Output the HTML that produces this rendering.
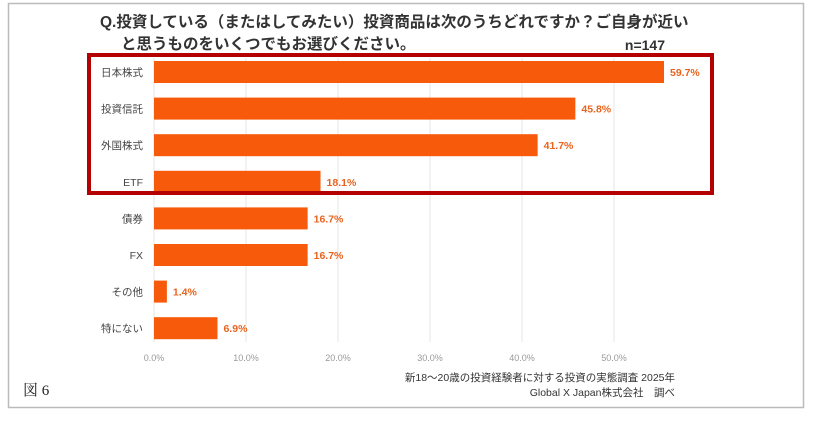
<!DOCTYPE html>
<html><head><meta charset="utf-8"><style>
body{margin:0;background:#fff;width:820px;height:422px;overflow:hidden;font-family:"Liberation Sans","Noto Sans CJK JP",sans-serif}
</style></head><body>
<svg id="c" width="820" height="422" xmlns="http://www.w3.org/2000/svg">
<rect x="8.5" y="3.5" width="795" height="404" fill="#fff" stroke="#bbb" stroke-width="1.5"/>
<text x="100" y="27" font-size="15.5" font-weight="bold" fill="#333">Q.投資している（またはしてみたい）投資商品は次のうちどれですか？ご自身が近い</text>
<text x="121" y="49" font-size="15.5" font-weight="bold" fill="#333">と思うものをいくつでもお選びください。</text>
<text x="665" y="50" font-size="14" font-weight="bold" fill="#333" text-anchor="end">n=147</text>
<g id="grid"></g><g id="bars"></g>
<rect x="89" y="55" width="623" height="138" fill="none" stroke="#b30000" stroke-width="4"/>
<text x="675" y="381" font-size="10.5" fill="#333" text-anchor="end">新18～20歳の投資経験者に対する投資の実態調査 2025年</text>
<text x="675" y="396" font-size="10.5" fill="#333" text-anchor="end">Global X Japan株式会社　調べ</text>
<text x="23" y="395" font-size="15" fill="#222" font-family="Liberation Serif,Noto Serif CJK SC,serif">図 6</text>
</svg>
<script>
const categories=["日本株式","投資信託","外国株式","ETF","債券","FX","その他","特にない"];
const values=[59.7,45.8,41.7,18.1,16.7,16.7,1.4,6.9];
const ticks=[0,10,20,30,40,50];
const tickLabels=["0.0%","10.0%","20.0%","30.0%","40.0%","50.0%"];
const ns="http://www.w3.org/2000/svg";
const x=v=>154+v*9.2, xMax=664;
const y=i=>72+i*36.6, bh=22;
const grid=document.getElementById('grid'), bars=document.getElementById('bars');
function mk(p,tag,a){const e=document.createElementNS(ns,tag);for(const k in a)e.setAttribute(k,a[k]);p.appendChild(e);return e;}
ticks.forEach((t,i)=>{
 const l=mk(grid,'line',{x1:x(t),x2:x(t),y1:58,y2:342,stroke:'#e4e4e4','stroke-width':1});
 
 
 const tx=mk(grid,'text',{x:x(t),y:361,'font-size':9,fill:'#999','text-anchor':'middle'});
 tx.textContent=tickLabels[i];
 
 
});
categories.forEach((c,i)=>{
 const cy=y(i), end=Math.min(x(values[i]),xMax);
 const r=mk(bars,'rect',{x:x(0),y:cy-bh/2,width:end-x(0),height:bh,fill:'#f75a0a'});
 
 
 const lb=mk(bars,'text',{x:143,y:cy+4,'font-size':10.5,fill:'#444','text-anchor':'end'});
 lb.textContent=c;
 
 
 const vl=mk(bars,'text',{x:end+6,y:cy+4,'font-size':10.5,'font-weight':'bold',fill:'#e8641e'});
 vl.textContent=values[i].toFixed(1)+'%';
 
 
});
</script>
</body></html>
